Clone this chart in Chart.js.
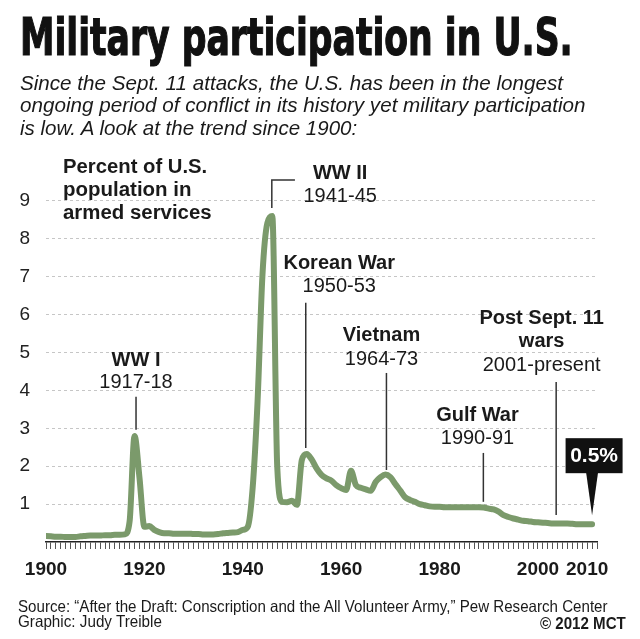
<!DOCTYPE html>
<html>
<head>
<meta charset="utf-8">
<script src="https://cdn.jsdelivr.net/npm/chart.js@4.4.1/dist/chart.umd.min.js"></script>
<style>
  body { margin: 0; background: #fff; width: 640px; height: 639px; overflow: hidden; position: relative; }
  #myChart { position: absolute; left: 0; top: 0; }
  .t { position: absolute; white-space: nowrap; color: #1a1a1a; transform-origin: 0 0; font-family: "Liberation Sans", Arimo, Arial, sans-serif; }
  .title { font: bold 52px/52px "Liberation Sans Narrow", "DejaVu Sans Condensed", "Liberation Sans", sans-serif; -webkit-text-stroke: 1.2px #111; color: #111; }
  .sub { font-style: italic; font-size: 21px; line-height: 22px; }
  .ytitle { font-weight: bold; font-size: 20px; line-height: 23px; }
  .foot { font-size: 16.5px; line-height: 16px; }
</style>
</head>
<body>
<canvas id="myChart" width="640" height="639"></canvas>

<div class="t title" data-w="553" style="left:20px;top:11px">Military participation in U.S.</div>
<div class="t sub" data-w="543" style="left:20px;top:71.7px">Since the Sept. 11 attacks, the U.S. has been in the longest</div>
<div class="t sub" data-w="565" style="left:20px;top:94.2px">ongoing period of conflict in its history yet military participation</div>
<div class="t sub" data-w="337" style="left:20px;top:116.7px">is low. A look at the trend since 1900:</div>

<div class="t ytitle" data-w="144" style="left:63px;top:154.6px">Percent of U.S.</div>
<div class="t ytitle" data-w="129" style="left:63px;top:177.6px">population in</div>
<div class="t ytitle" data-w="149" style="left:63px;top:200.6px">armed services</div>

<div class="t foot" data-w="590" style="left:18px;top:598.3px">Source: “After the Draft: Conscription and the All Volunteer Army,” Pew Research Center</div>
<div class="t foot" data-w="144" style="left:18px;top:613.3px">Graphic: Judy Treible</div>
<div class="t foot" data-w="86" style="left:540px;top:615px;font-weight:bold">© 2012 MCT</div>

<script>
// percent of U.S. population in armed services, one value per year from 1900
const startYear = 1900;
const values = [
  0.16, 0.15, 0.14, 0.14, 0.13, 0.13, 0.13, 0.15, 0.16, 0.17,
  0.17, 0.17, 0.18, 0.18, 0.19, 0.19, 0.20, 0.55, 2.80, 1.70,
  0.40, 0.42, 0.32, 0.26, 0.23, 0.23, 0.22, 0.22, 0.22, 0.22,
  0.21, 0.21, 0.20, 0.20, 0.20, 0.21, 0.23, 0.24, 0.25, 0.26,
  0.32, 0.40, 1.42, 3.70, 7.05, 8.42, 8.60, 1.99, 1.06, 1.05,
  1.09, 0.98, 2.16, 2.32, 2.18, 1.94, 1.77, 1.68, 1.62, 1.50,
  1.42, 1.37, 1.88, 1.50, 1.43, 1.39, 1.35, 1.58, 1.71, 1.78,
  1.71, 1.53, 1.36, 1.18, 1.11, 1.06, 1.00, 0.97, 0.94, 0.93,
  0.93, 0.92, 0.92, 0.92, 0.92, 0.92, 0.92, 0.92, 0.92, 0.91,
  0.88, 0.86, 0.80, 0.71, 0.66, 0.62, 0.59, 0.56, 0.55, 0.53,
  0.52, 0.51, 0.50, 0.49, 0.49, 0.49, 0.49, 0.48, 0.47, 0.47,
  0.47, 0.47
];
const years = values.map((v, i) => startYear + i);
const xLabels = [1900, 1920, 1940, 1960, 1980, 2000, 2010];
const yTicks = [1, 2, 3, 4, 5, 6, 7, 8, 9];
const lastLabel = '0.5%';

// callouts, placed in data units (year, percent)
const notes = [
  { bold: ['WW I'], boldY: [4.80], sub: '1917-18', subY: 4.20, x: 1918.3, lx: 1918.3, ly: [3.83, 2.96] },
  { bold: ['WW II'], boldY: [9.72], sub: '1941-45', subY: 9.12, x: 1959.8, lx: 1945.9, ly: [8.81, 9.55], hook: 1950.6 },
  { bold: ['Korean War'], boldY: [7.35], sub: '1950-53', subY: 6.73, x: 1959.6, lx: 1952.8, ly: [6.31, 2.48] },
  { bold: ['Vietnam'], boldY: [5.45], sub: '1964-73', subY: 4.82, x: 1968.2, lx: 1969.2, ly: [4.46, 1.90] },
  { bold: ['Gulf War'], boldY: [3.34], sub: '1990-91', subY: 2.72, x: 1987.7, lx: 1988.9, ly: [2.35, 1.06] },
  { bold: ['Post Sept. 11', 'wars'], boldY: [5.91, 5.29], sub: '2001-present', subY: 4.67, x: 2000.75, lx: 2003.7, ly: [4.22, 0.71] }
];

const FONT = '"Liberation Sans", Arimo, Arial, sans-serif';

const notesPlugin = {
  id: 'notes',
  afterDatasetsDraw(chart) {
    const { ctx, scales: { x, y } } = chart;
    ctx.save();
    ctx.fillStyle = '#1a1a1a';
    ctx.strokeStyle = '#333';
    ctx.lineWidth = 1.5;
    ctx.textAlign = 'center';
    ctx.textBaseline = 'middle';
    notes.forEach(n => {
      const cx = x.getPixelForValue(n.x);
      ctx.font = 'bold 20px ' + FONT;
      n.bold.forEach((t, i) => ctx.fillText(t, cx, y.getPixelForValue(n.boldY[i])));
      ctx.font = '20px ' + FONT;
      ctx.fillText(n.sub, cx, y.getPixelForValue(n.subY));
      const lx = x.getPixelForValue(n.lx);
      ctx.beginPath();
      ctx.moveTo(lx, y.getPixelForValue(n.ly[0]));
      ctx.lineTo(lx, y.getPixelForValue(n.ly[1]));
      if (n.hook) ctx.lineTo(x.getPixelForValue(n.hook), y.getPixelForValue(n.ly[1]));
      ctx.stroke();
    });

    // latest value callout
    const tx = x.getPixelForValue(years[years.length - 1]);
    const ty = y.getPixelForValue(values[values.length - 1]) - 9;
    const bx = tx + 2, bBottom = ty - 42;
    ctx.fillStyle = '#111';
    ctx.fillRect(bx - 28.5, bBottom - 35, 57, 35);
    ctx.beginPath();
    ctx.moveTo(tx - 6, bBottom - 1);
    ctx.lineTo(tx + 6, bBottom - 1);
    ctx.lineTo(tx, ty);
    ctx.closePath();
    ctx.fill();
    ctx.fillStyle = '#fff';
    ctx.font = 'bold 21px ' + FONT;
    ctx.fillText(lastLabel, bx, bBottom - 17);
    ctx.restore();
  }
};

const ctx = document.getElementById('myChart');
const chart = new Chart(ctx, {
  type: 'line',
  data: {
    datasets: [{
      label: 'Percent of U.S. population in armed services',
      data: years.map((yr, i) => ({ x: yr, y: values[i] })),
      borderColor: '#7b9a6b',
      borderWidth: 6,
      borderCapStyle: 'round',
      borderJoinStyle: 'round',
      cubicInterpolationMode: 'monotone',
      pointRadius: 0,
      fill: false
    }]
  },
  options: {
    responsive: false,
    animation: false,
    layout: { padding: { left: 0, top: 163, right: 43, bottom: 57 } },
    plugins: { legend: { display: false }, tooltip: { enabled: false } },
    scales: {
      x: {
        type: 'linear',
        min: 1900,
        max: 2012,
        afterFit: s => { s.height = 40; },
        border: { display: true, color: '#222', width: 1.5 },
        grid: { drawOnChartArea: false, drawTicks: true, tickLength: 7, color: '#555', lineWidth: 1 },
        ticks: {
          stepSize: 1,
          autoSkip: false,
          maxRotation: 0,
          padding: 9,
          color: '#1a1a1a',
          font: { family: FONT, size: 19, weight: 'bold' },
          callback: v => xLabels.includes(v) ? String(v) : ''
        }
      },
      y: {
        min: 0,
        max: 10,
        afterFit: s => { s.width = 46; },
        afterBuildTicks: s => { s.ticks = yTicks.map(v => ({ value: v })); },
        border: { display: false, dash: [3, 3] },
        grid: { drawTicks: false, color: '#c6c6c6', lineWidth: 1 },
        ticks: {
          padding: 16,
          color: '#222',
          font: { family: FONT, size: 19 }
        }
      }
    }
  },
  plugins: [notesPlugin]
});

document.querySelectorAll('.t[data-w]').forEach(el => {
  const w = el.offsetWidth;
  el.style.transform = 'scaleX(' + (parseFloat(el.dataset.w) / w) + ')';
});
</script>
</body>
</html>
